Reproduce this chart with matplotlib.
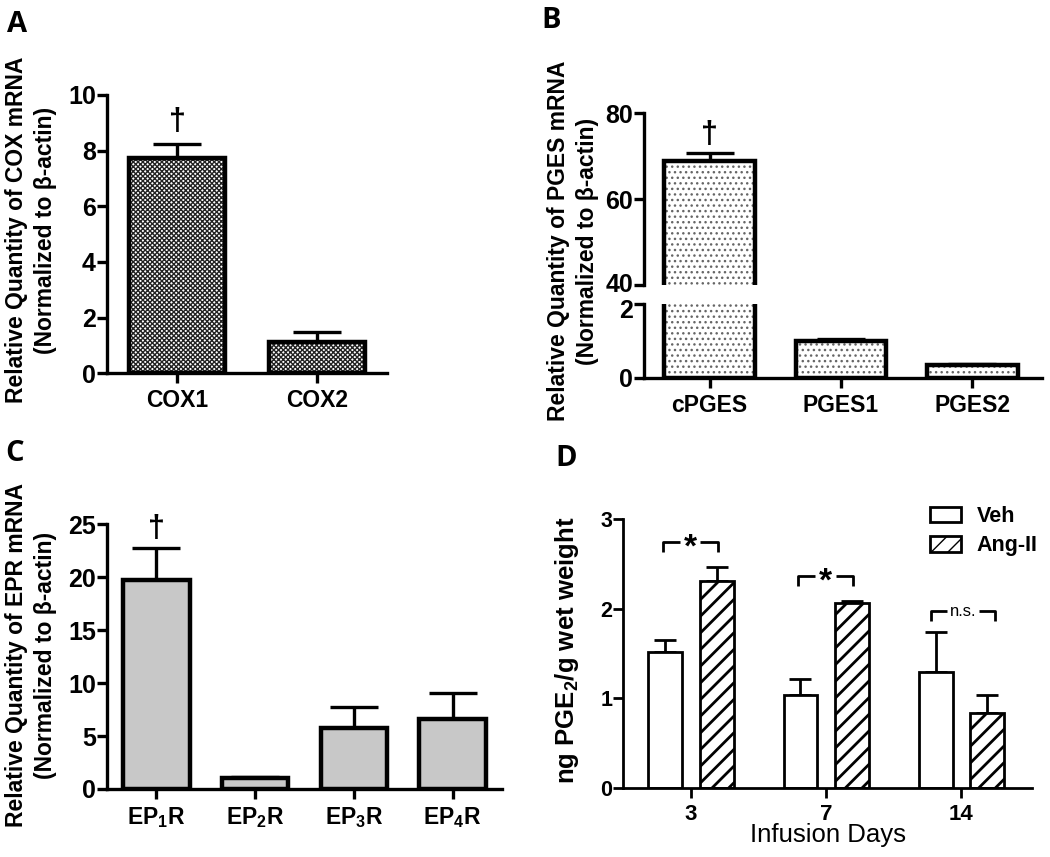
import matplotlib
matplotlib.use("Agg")
import matplotlib.pyplot as plt
import matplotlib.transforms as mtransforms
from matplotlib.patches import Patch
import numpy as np

# ---------------- data ----------------
a_labels = ["COX1", "COX2"]
a_values = [7.75, 1.14]
a_errors = [0.48, 0.36]

b_labels = ["cPGES", "PGES1", "PGES2"]
b_values = [68.9, 1.01, 0.35]
b_errors = [1.9, 0.04, 0.02]

c_labels = ["EP$_1$R", "EP$_2$R", "EP$_3$R", "EP$_4$R"]
c_values = [19.75, 1.01, 5.74, 6.62]
c_errors = [3.05, 0.09, 1.98, 2.42]

d_days = ["3", "7", "14"]
d_veh = [1.52, 1.04, 1.29]
d_veh_err = [0.13, 0.18, 0.45]
d_ang = [2.31, 2.07, 0.84]
d_ang_err = [0.16, 0.02, 0.20]
d_sig = ["*", "*", "n.s."]
d_bracket_y = [2.75, 2.37, 1.97]

# ---------------- style ----------------
plt.rcParams['font.family'] = ['Liberation Sans', 'DejaVu Sans']
plt.rcParams['mathtext.default'] = 'regular'
plt.rcParams['hatch.linewidth'] = 1.0

W, H = 1050, 857
fig = plt.figure(figsize=(W / 100, H / 100), dpi=100)


def ax_px(l, t, r, b):
    return fig.add_axes([l / W, 1 - b / H, (r - l) / W, (b - t) / H])


def style_axis(ax, lw=2.2, ticklen=7.5, tickfs=18, catfs=16, bottom=True,
               ypad=0.5):
    for s in ['top', 'right']:
        ax.spines[s].set_visible(False)
    ax.spines['left'].set_linewidth(lw)
    ax.spines['bottom'].set_linewidth(lw)
    if not bottom:
        ax.spines['bottom'].set_visible(False)
    ax.tick_params(axis='y', direction='out', length=ticklen, width=lw,
                   labelsize=tickfs, pad=ypad)
    ax.tick_params(axis='x', direction='out', length=ticklen, width=lw,
                   labelsize=catfs, pad=4)
    for lab in ax.get_yticklabels() + ax.get_xticklabels():
        lab.set_fontweight('bold')


def px2fig(x, y):
    return x / W, 1 - y / H


def panel_label(text, x, y):
    fx, fy = px2fig(x, y)
    fig.text(fx, fy, text, fontsize=21, fontweight='bold', ha='left',
             va='center', family=['Open Sans', 'DejaVu Sans'])


def ylabel(text, x, y, fs=16.5):
    fx, fy = px2fig(x, y)
    fig.text(fx, fy, text, rotation=90, fontsize=fs, fontweight='bold',
             ha='center', va='center', linespacing=1.3)


DAG = 22

# ---------------- Panel A ----------------
axA = ax_px(107, 95, 387, 373.3)
xa = np.arange(len(a_labels))
axA.bar(xa, a_values, width=0.68, color='white', edgecolor='#222222',
        hatch='xxxxxxx', linewidth=0, zorder=2)
axA.bar(xa, a_values, width=0.68, color='none', edgecolor='black',
        linewidth=3.2, zorder=3)
axA.errorbar(xa, a_values, yerr=[np.zeros(len(a_values)), a_errors],
             fmt='none', ecolor='black', elinewidth=2.4, capsize=17,
             capthick=2.4, zorder=1)
axA.text(xa[0], a_values[0] + a_errors[0] + 0.25, "†", ha='center',
         va='bottom', fontsize=DAG, fontweight='bold')
axA.set_ylim(0, 10)
axA.set_xlim(-0.5, 1.5)
axA.set_yticks([0, 2, 4, 6, 8, 10])
axA.set_xticks(xa)
axA.set_xticklabels(a_labels)
style_axis(axA, lw=2.4, catfs=16.5)
panel_label("A", 7, 24)
ylabel("Relative Quantity of COX mRNA\n(Normalized to β-actin)", 31, 230)

# ---------------- Panel B (broken axis) ----------------
axB1 = ax_px(644, 113.3, 1042, 285.3)
axB2 = ax_px(644, 304.3, 1042, 377.7)
xb = np.arange(len(b_labels))
for ax in (axB1, axB2):
    ax.bar(xb, b_values, width=0.69, color='white', edgecolor='#666666',
           hatch='...', linewidth=0, zorder=2)
    ax.bar(xb, b_values, width=0.69, color='none', edgecolor='black',
           linewidth=3.2, zorder=3)
    ax.errorbar(xb, b_values, yerr=[np.zeros(len(b_values)), b_errors],
                fmt='none', ecolor='black', elinewidth=2.4, capsize=17,
                capthick=2.4, zorder=1)
    ax.set_xlim(-0.5, 2.53)
axB1.set_ylim(40, 80)
axB1.set_yticks([40, 60, 80])
axB1.set_xticks([])
axB2.set_ylim(0, 2)
axB2.set_yticks([0, 2])
axB2.set_xticks(xb)
axB2.set_xticklabels(b_labels)
style_axis(axB1, lw=2.4, bottom=False)
style_axis(axB2, lw=2.4, catfs=16.5)
# nudge the crowded labels at the break apart
lab40 = axB1.get_yticklabels()[0]
lab40.set_transform(lab40.get_transform() +
                    mtransforms.ScaledTranslation(0, 3 / 100, fig.dpi_scale_trans))
lab2 = axB2.get_yticklabels()[-1]
lab2.set_transform(lab2.get_transform() +
                   mtransforms.ScaledTranslation(0, -4 / 100, fig.dpi_scale_trans))
axB1.text(xb[0], b_values[0] + b_errors[0] + 0.6, "†", ha='center',
          va='bottom', fontsize=DAG, fontweight='bold')
panel_label("B", 541, 21)
ylabel("Relative Quantity of PGES mRNA\n(Normalized to β-actin)", 573, 241)

# ---------------- Panel C ----------------
axC = ax_px(107, 524.3, 502, 789)
xc = np.arange(len(c_labels))
axC.bar(xc, c_values, width=0.675, color='#c8c8c8', edgecolor='black',
        linewidth=3.2, zorder=2)
axC.errorbar(xc, c_values, yerr=[np.zeros(len(c_values)), c_errors],
             fmt='none', ecolor='black', elinewidth=2.4, capsize=17,
             capthick=2.4, zorder=1)
axC.text(xc[0], c_values[0] + c_errors[0] + 0.35, "†", ha='center',
         va='bottom', fontsize=DAG, fontweight='bold')
axC.set_ylim(0, 25)
axC.set_xlim(-0.5, 3.5)
axC.set_yticks([0, 5, 10, 15, 20, 25])
axC.set_xticks(xc)
axC.set_xticklabels(c_labels)
style_axis(axC, lw=2.4, catfs=16.5)
panel_label("C", 5, 453)
ylabel("Relative Quantity of EPR mRNA\n(Normalized to β-actin)", 31, 655)

# ---------------- Panel D ----------------
axD = ax_px(623.3, 519.3, 1031.7, 787.7)
xd = np.arange(len(d_days))
off, bw = 0.19, 0.25
axD.bar(xd - off, d_veh, width=bw, color='white', edgecolor='black',
        linewidth=2.0, zorder=2)
with plt.rc_context({'hatch.linewidth': 2.0}):
    axD.bar(xd + off, d_ang, width=bw, color='white', edgecolor='black',
            hatch='//', linewidth=2.0, zorder=2)
axD.errorbar(xd - off, d_veh, yerr=[np.zeros(3), d_veh_err], fmt='none',
             ecolor='black', elinewidth=2.0, capsize=8, capthick=2.0, zorder=1)
axD.errorbar(xd + off, d_ang, yerr=[np.zeros(3), d_ang_err], fmt='none',
             ecolor='black', elinewidth=2.0, capsize=8, capthick=2.0, zorder=1)
for i, (s, yb) in enumerate(zip(d_sig, d_bracket_y)):
    if s == "*":
        x1, x2, g = xd[i] - 0.21, xd[i] + 0.20, 0.075
        fs, fw = 24, 'bold'
        ty = yb - 0.07
    else:
        x1, x2, g = xd[i] - 0.225, xd[i] + 0.25, 0.12
        fs, fw = 12, 'normal'
        ty = yb
    leg = 0.11
    xm = (x1 + x2) / 2
    axD.plot([x1, x1, xm - g], [yb - leg, yb, yb], color='black', lw=2.0,
             solid_capstyle='butt', clip_on=False)
    axD.plot([xm + g, x2, x2], [yb, yb, yb - leg], color='black', lw=2.0,
             solid_capstyle='butt', clip_on=False)
    axD.text(xm, ty, s, ha='center', va='center', fontsize=fs,
             fontweight=fw)
axD.set_ylim(0, 3)
axD.set_xlim(-0.5, 2.52)
axD.set_yticks([0, 1, 2, 3])
axD.set_xticks(xd)
axD.set_xticklabels(d_days)
style_axis(axD, lw=2.0, tickfs=15.5, catfs=16)
axD.set_xlabel("Infusion Days", fontsize=18.5, labelpad=-1)
with plt.rc_context({'hatch.linewidth': 2.0}):
    handles = [Patch(facecolor='white', edgecolor='black', linewidth=2.0,
                     label='Veh'),
               Patch(facecolor='white', edgecolor='black', linewidth=2.0,
                     hatch='//', label='Ang-II')]
leg = axD.legend(handles=handles, loc='upper right', frameon=False,
                 bbox_to_anchor=(1.015, 1.05), handlelength=1.45,
                 handleheight=0.72, handletextpad=0.75, labelspacing=0.4,
                 borderpad=0, borderaxespad=0,
                 prop={'weight': 'bold', 'size': 15.5})
panel_label("D", 555, 458)
ylabel("ng PGE$_2$/g wet weight", 567, 650, fs=18.5)

fig.savefig("out.png", dpi=100)
